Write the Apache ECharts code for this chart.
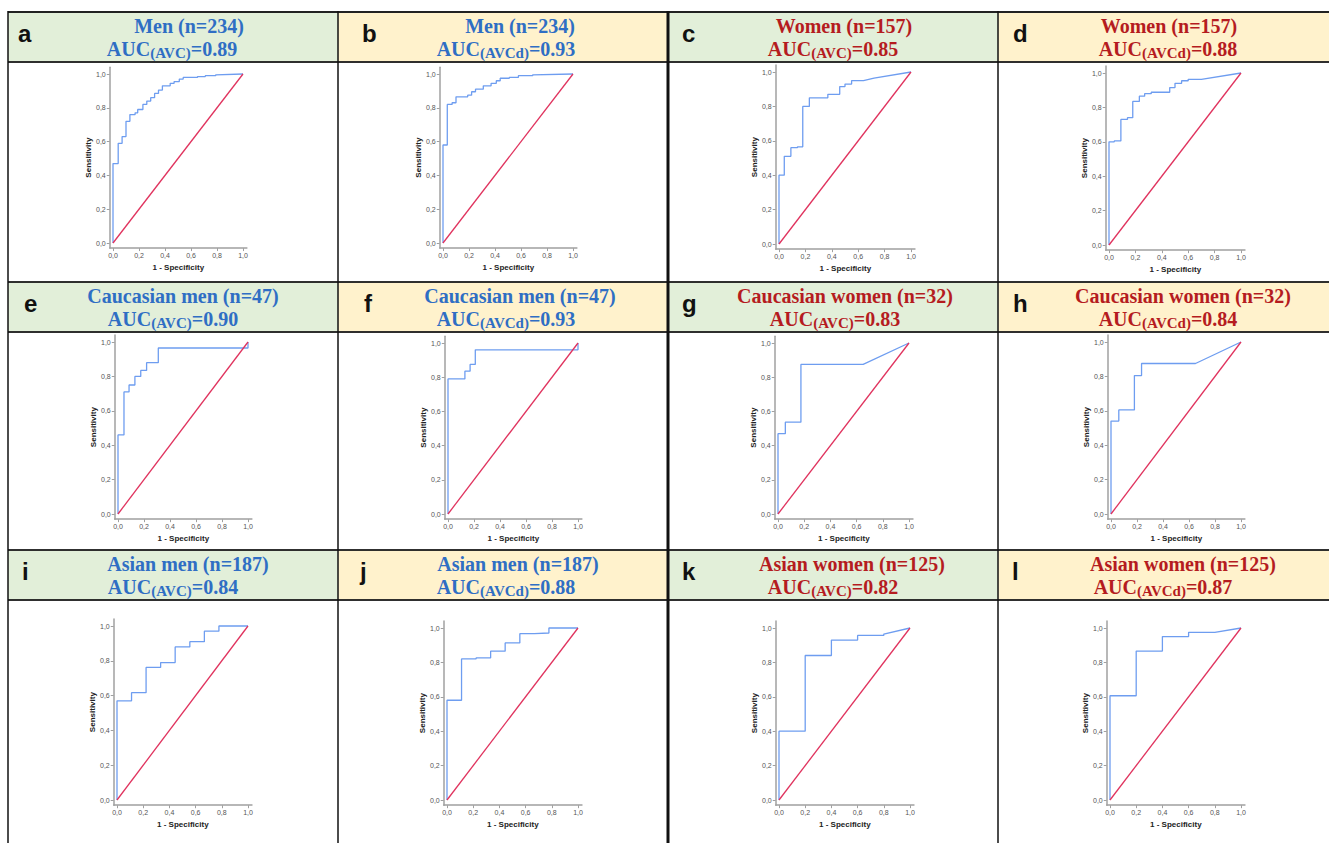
<!DOCTYPE html>
<html>
<head>
<meta charset="utf-8">
<script src="https://cdn.jsdelivr.net/npm/echarts@6/dist/echarts.min.js"></script>
<style>
html, body { margin: 0; background: #fff; }
#main { width: 1329px; height: 843px; }
</style>
</head>
<body>
<div id="main"></div>
<script>
// panel labels and headings
const letters = ['a', 'b', 'c', 'd', 'e', 'f', 'g', 'h', 'i', 'j', 'k', 'l'];
const groups = ['Men (n=234)', 'Men (n=234)', 'Women (n=157)', 'Women (n=157)',
    'Caucasian men (n=47)', 'Caucasian men (n=47)', 'Caucasian women (n=32)', 'Caucasian women (n=32)',
    'Asian men (n=187)', 'Asian men (n=187)', 'Asian women (n=125)', 'Asian women (n=125)'];
const markers = ['AVC', 'AVCd', 'AVC', 'AVCd', 'AVC', 'AVCd', 'AVC', 'AVCd', 'AVC', 'AVCd', 'AVC', 'AVCd'];
const aucValues = ['0.89', '0.93', '0.85', '0.88', '0.90', '0.93', '0.83', '0.84', '0.84', '0.88', '0.82', '0.87'];
const isMen = [true, true, false, false, true, true, false, false, true, true, false, false];
const tickValues = [0, 0.2, 0.4, 0.6, 0.8, 1.0];

// ROC curves: [1 - specificity, sensitivity]
const rocA = [[0,0],[0,0.47],[0.04,0.47],[0.04,0.59],[0.07,0.59],[0.07,0.63],[0.10,0.63],[0.10,0.72],[0.13,0.72],[0.13,0.76],
    [0.17,0.76],[0.17,0.77],[0.19,0.77],[0.19,0.79],[0.23,0.79],[0.23,0.82],[0.26,0.82],[0.26,0.84],[0.29,0.84],[0.29,0.86],
    [0.32,0.86],[0.32,0.885],[0.35,0.885],[0.35,0.905],[0.38,0.905],[0.38,0.93],[0.44,0.93],[0.44,0.945],[0.47,0.945],[0.47,0.955],
    [0.51,0.955],[0.51,0.97],[0.54,0.97],[0.54,0.98],[0.65,0.98],[0.65,0.985],[0.71,0.985],[0.71,0.99],[0.79,0.99],[0.79,0.995],[1,1]];
const rocB = [[0,0],[0,0.58],[0.033,0.58],[0.033,0.82],[0.07,0.82],[0.07,0.83],[0.10,0.83],[0.10,0.865],[0.19,0.865],[0.19,0.875],
    [0.22,0.875],[0.22,0.895],[0.25,0.895],[0.25,0.91],[0.31,0.91],[0.31,0.93],[0.37,0.93],[0.37,0.945],[0.41,0.945],[0.41,0.96],
    [0.44,0.96],[0.44,0.975],[0.51,0.975],[0.51,0.98],[0.58,0.98],[0.58,0.99],[0.69,0.99],[0.69,0.995],[1,1]];
const rocC = [[0,0],[0,0.40],[0.04,0.40],[0.04,0.51],[0.09,0.51],[0.09,0.56],[0.14,0.56],[0.14,0.565],[0.18,0.565],[0.18,0.80],
    [0.23,0.80],[0.23,0.85],[0.37,0.85],[0.37,0.87],[0.46,0.87],[0.46,0.915],[0.50,0.915],[0.50,0.93],[0.55,0.93],[0.55,0.95],
    [0.64,0.95],[0.72,0.965],[1,1]];
const rocD = [[0,0],[0,0.60],[0.04,0.60],[0.04,0.605],[0.09,0.605],[0.09,0.73],[0.14,0.73],[0.14,0.74],[0.18,0.74],[0.18,0.835],
    [0.23,0.835],[0.23,0.865],[0.27,0.865],[0.27,0.88],[0.32,0.88],[0.32,0.888],[0.46,0.888],[0.46,0.915],[0.50,0.915],[0.50,0.94],
    [0.55,0.94],[0.55,0.955],[0.60,0.955],[0.60,0.963],[0.70,0.963],[1,1]];
const rocE = [[0,0],[0,0.46],[0.046,0.46],[0.046,0.71],[0.085,0.71],[0.085,0.75],[0.13,0.75],[0.13,0.80],[0.175,0.80],[0.175,0.835],
    [0.22,0.835],[0.22,0.88],[0.31,0.88],[0.31,0.965],[1,0.965],[1,1]];
const rocF = [[0,0],[0,0.79],[0.13,0.79],[0.13,0.835],[0.17,0.835],[0.17,0.875],[0.21,0.875],[0.21,0.96],[1,0.96],[1,1]];
const rocG = [[0,0],[0,0.47],[0.056,0.47],[0.056,0.537],[0.175,0.537],[0.175,0.875],[0.65,0.875],[1,1]];
const rocH = [[0,0],[0,0.54],[0.06,0.54],[0.06,0.605],[0.18,0.605],[0.18,0.805],[0.235,0.805],[0.235,0.875],[0.65,0.875],[1,1]];
const rocI = [[0,0],[0,0.57],[0.111,0.57],[0.111,0.617],[0.222,0.617],[0.222,0.762],[0.333,0.762],[0.333,0.79],[0.444,0.79],
    [0.444,0.88],[0.556,0.88],[0.556,0.91],[0.667,0.91],[0.667,0.97],[0.778,0.97],[0.778,1],[1,1]];
const rocJ = [[0,0],[0,0.58],[0.111,0.58],[0.111,0.82],[0.222,0.82],[0.222,0.826],[0.333,0.826],[0.333,0.865],[0.444,0.865],
    [0.444,0.913],[0.556,0.913],[0.556,0.967],[0.667,0.967],[0.667,0.971],[0.778,0.971],[0.778,1],[1,1]];
const rocK = [[0,0],[0,0.40],[0.2,0.40],[0.2,0.84],[0.4,0.84],[0.4,0.93],[0.6,0.93],[0.6,0.957],[0.8,0.957],[0.8,0.965],[1,1]];
const rocL = [[0,0],[0,0.606],[0.2,0.606],[0.2,0.866],[0.4,0.866],[0.4,0.95],[0.6,0.95],[0.6,0.975],[0.8,0.975],[1,1]];
const chanceLine = [[0, 0], [1, 1]];
const curves = [rocA, rocB, rocC, rocD, rocE, rocF, rocG, rocH, rocI, rocJ, rocK, rocL];

// layout: pixel position of x=0, x=1, y=1, y=0 inside each panel
const plotBoxes = [
    [113, 243, 74, 243], [443, 573, 74, 243], [779, 911, 72, 244], [1109, 1241, 73, 245],
    [118, 248, 342, 514], [448, 578, 343, 514], [778, 909, 343, 514], [1111, 1241, 342, 514],
    [117, 248, 626, 800], [447, 578, 628, 800], [779, 910, 628, 800], [1110, 1241, 628, 800]
];
const colEdges = [8, 338, 668, 998, 1329];
const headerTops = [12, 282, 550];
const headerHeight = 50;
const letterX = [[18, 362, 682, 1013], [24, 364, 682, 1013], [22, 360, 682, 1012]];
const line1X = [[189, 520, 844, 1169], [183, 520, 845, 1183], [188, 518, 852, 1183]];
const line2X = [[172, 506, 833, 1168], [173, 506, 835, 1168], [173, 506, 833, 1163]];

const BLUE_TXT = '#2f6ec4', RED_TXT = '#b51c1f';
const GREEN_BG = '#e2efd9', YELLOW_BG = '#fff2cc';

const grids = [], xAxes = [], yAxes = [], series = [], graphics = [];
const fmt = v => v.toFixed(1).replace('.', ',');

plotBoxes.forEach(function (b, i) {
    const ux = b[1] - b[0], uy = b[3] - b[2];
    grids.push({
        left: b[0] - 0.025 * ux, width: 1.055 * ux,
        top: b[2] - 0.04 * uy, height: 1.07 * uy
    });
    const axisCommon = {
        type: 'value', gridIndex: i,
        axisLine: { show: true, onZero: false, lineStyle: { color: '#a0a0a0', width: 1.5 } },
        axisTick: { show: true, length: 3, customValues: tickValues, lineStyle: { color: '#a0a0a0' } },
        axisLabel: { customValues: tickValues, formatter: fmt, fontSize: 7, color: '#555',
            fontFamily: 'Liberation Sans', margin: 4 },
        splitLine: { show: false },
        nameLocation: 'middle', nameGap: 15,
        nameTextStyle: { fontSize: 8, fontWeight: 'bold', color: '#222', fontFamily: 'Liberation Sans' }
    };
    xAxes.push(Object.assign({}, axisCommon, { min: -0.025, max: 1.03, name: '1 - Specificity' }));
    yAxes.push(Object.assign({}, axisCommon, { min: -0.03, max: 1.04, name: 'Sensitivity', nameGap: 17 }));
    series.push({
        type: 'line', xAxisIndex: i, yAxisIndex: i, data: curves[i], showSymbol: false,
        lineStyle: { color: '#6e9df0', width: 1.3 }, silent: true
    });
    series.push({
        type: 'line', xAxisIndex: i, yAxisIndex: i, data: chanceLine, showSymbol: false,
        lineStyle: { color: '#e0335e', width: 1.3 }, silent: true
    });
});

// header cells
headerTops.forEach(function (top, r) {
    for (let c = 0; c < 4; c++) {
        const i = r * 4 + c;
        graphics.push({
            type: 'rect', z: 1,
            shape: { x: colEdges[c], y: top, width: colEdges[c + 1] - colEdges[c], height: headerHeight },
            style: { fill: c % 2 === 0 ? GREEN_BG : YELLOW_BG }
        });
        const col = isMen[i] ? BLUE_TXT : RED_TXT;
        graphics.push({
            type: 'text', z: 5,
            style: { text: letters[i], x: letterX[r][c], y: top + 21, fill: '#111',
                font: 'bold 24px "Liberation Sans"', verticalAlign: 'middle', align: 'left' }
        });
        graphics.push({
            type: 'text', z: 5,
            style: { text: groups[i], x: line1X[r][c], y: top + 14, fill: col,
                font: 'bold 20px "Liberation Serif"', align: 'center', verticalAlign: 'middle' }
        });
        graphics.push({
            type: 'text', z: 5,
            style: {
                text: '{m|AUC}{s|(' + markers[i] + ')}{m|=' + aucValues[i] + '}',
                x: line2X[r][c], y: top + 37, align: 'center', verticalAlign: 'middle',
                rich: {
                    m: { fontSize: 20, fontWeight: 'bold', fontFamily: 'Liberation Serif', fill: col, lineHeight: 22 },
                    s: { fontSize: 15, fontWeight: 'bold', fontFamily: 'Liberation Serif', fill: col,
                        verticalAlign: 'bottom', lineHeight: 22, padding: [6, 0, 0, 0] }
                }
            }
        });
        // header borders
        [top, top + headerHeight].forEach(function (y) {
            graphics.push({ type: 'line', z: 6,
                shape: { x1: colEdges[0], y1: y, x2: colEdges[4], y2: y },
                style: { stroke: '#222', lineWidth: y === 12 ? 2 : 1 } });
        });
    }
});

// column separators
[[8, 1.5], [338, 1.5], [668, 3], [998, 1.5]].forEach(function (v) {
    graphics.push({ type: 'line', z: 6,
        shape: { x1: v[0], y1: 11, x2: v[0], y2: 843 },
        style: { stroke: '#111', lineWidth: v[1] } });
});

const option = {
    backgroundColor: '#fff',
    animation: false,
    grid: grids,
    xAxis: xAxes,
    yAxis: yAxes,
    series: series,
    graphic: { elements: graphics }
};

const chart = echarts.init(document.getElementById('main'), null, { renderer: 'svg' });
chart.setOption(option);
</script>
</body>
</html>
